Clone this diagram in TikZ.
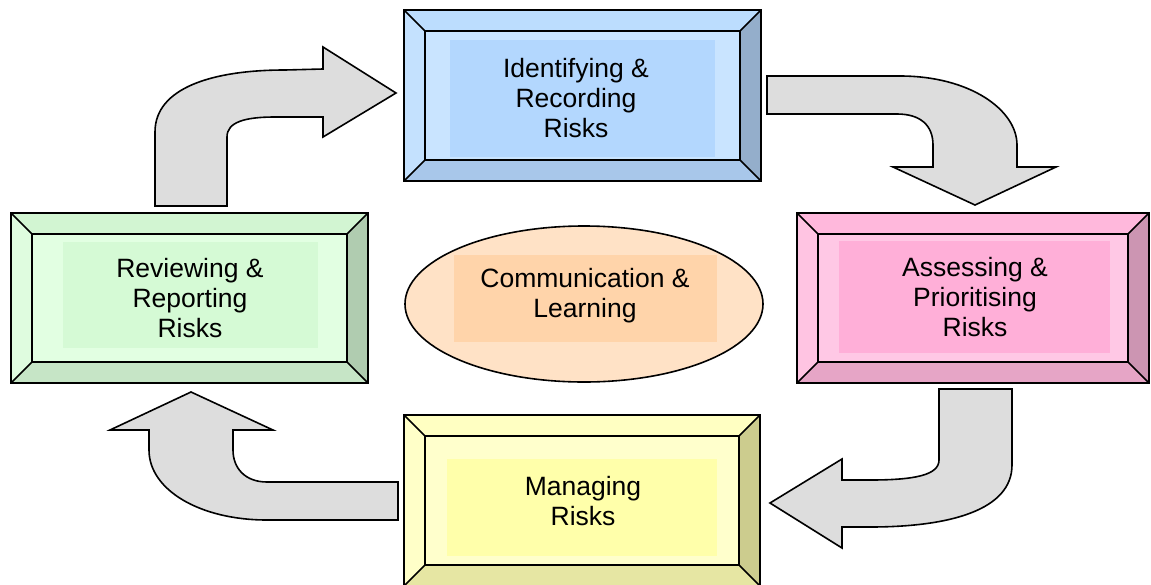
\documentclass[tikz,border=0pt]{standalone}
\usepackage{fontspec}
\setmainfont{Liberation Sans}

% bevel colours: top, left, right, bottom, inner frame, caption panel
\definecolor{blueTop}{HTML}{BCDDFE}
\definecolor{blueLeft}{HTML}{C4E1FE}
\definecolor{blueRight}{HTML}{94AECB}
\definecolor{blueBottom}{HTML}{A8C7EA}
\definecolor{blueFrame}{HTML}{C9E4FF}
\definecolor{bluePanel}{HTML}{B3D7FE}

\definecolor{pinkTop}{HTML}{FFB8DC}
\definecolor{pinkLeft}{HTML}{FFC4E2}
\definecolor{pinkRight}{HTML}{CC95B2}
\definecolor{pinkBottom}{HTML}{E6A5C6}
\definecolor{pinkFrame}{HTML}{FFC8E5}
\definecolor{pinkPanel}{HTML}{FFAFD8}

\definecolor{greenTop}{HTML}{D2F5D2}
\definecolor{greenLeft}{HTML}{DFFCDF}
\definecolor{greenRight}{HTML}{B0CCB0}
\definecolor{greenBottom}{HTML}{C6E5C6}
\definecolor{greenFrame}{HTML}{E2FFE2}
\definecolor{greenPanel}{HTML}{D5FAD5}

\definecolor{yellowTop}{HTML}{FFFFC2}
\definecolor{yellowLeft}{HTML}{FFFFC8}
\definecolor{yellowRight}{HTML}{CCCC8E}
\definecolor{yellowBottom}{HTML}{E6E6A3}
\definecolor{yellowFrame}{HTML}{FFFFCC}
\definecolor{yellowPanel}{HTML}{FFFFAA}

\definecolor{hubFill}{HTML}{FFE2C6}
\definecolor{hubPanel}{HTML}{FFD4AA}
\definecolor{arrowGray}{HTML}{DDDDDD}

% bevelled box: #1 name, #2..#5 outer corners, #6 colour prefix
\newcommand\bevbox[6]{%
  \fill[#6Top]    (#2,#3) -- (#4,#3) -- ({#4-21},{#3+21}) -- ({#2+21},{#3+21}) -- cycle;
  \fill[#6Bottom] (#2,#5) -- (#4,#5) -- ({#4-21},{#5-21}) -- ({#2+21},{#5-21}) -- cycle;
  \fill[#6Left]   (#2,#3) -- ({#2+21},{#3+21}) -- ({#2+21},{#5-21}) -- (#2,#5) -- cycle;
  \fill[#6Right]  (#4,#3) -- ({#4-21},{#3+21}) -- ({#4-21},{#5-21}) -- (#4,#5) -- cycle;
  \fill[#6Frame]  ({#2+21},{#3+21}) rectangle ({#4-21},{#5-21});
  \draw[edge] (#2,#3) -- ({#2+21},{#3+21}) (#4,#3) -- ({#4-21},{#3+21})
              (#2,#5) -- ({#2+21},{#5-21}) (#4,#5) -- ({#4-21},{#5-21});
  \draw[edge] ({#2+21},{#3+21}) rectangle ({#4-21},{#5-21});
  \node[edge, draw, inner sep=0pt, minimum width={(#4-#2)*1pt},
        minimum height={(#5-#3)*1pt}] (#1) at ({(#2+#4)/2},{(#3+#5)/2}) {};
}

\begin{document}
\begin{tikzpicture}[x=1pt, y=-1pt,
  edge/.style={draw=black, line width=1.6pt, line join=miter},
  caption/.style={font=\fontsize{26.5}{30}\selectfont, align=center, inner sep=0pt},
  blockarrow/.style={fill=arrowGray, draw=black, line width=1.6pt, line join=miter}]

\useasboundingbox (0,0) rectangle (1151,584);

% ---- boxes ----
\bevbox{identify}{404}{10}{761}{181}{blue}
\fill[bluePanel] (450,40) rectangle (715,157);
\node[caption] (identify-text) at (576,98) {Identifying \&\\Recording\\Risks};

\bevbox{assess}{797}{213}{1149}{383}{pink}
\fill[pinkPanel] (839,241) rectangle (1110,353);
\node[caption] (assess-text) at (975,297) {Assessing \&\\Prioritising\\Risks};

\bevbox{review}{11}{213}{368}{383}{green}
\fill[greenPanel] (63,242) rectangle (318,348);
\node[caption] (review-text) at (190,298) {Reviewing \&\\Reporting\\Risks};

\bevbox{manage}{404}{415}{760}{586}{yellow}
\fill[yellowPanel] (447,459) rectangle (717,556);
\node[caption] (manage-text) at (583,501) {Managing\\Risks};

% ---- centre ellipse ----
\draw[edge, fill=hubFill] (584,304) ellipse [x radius=179, y radius=78];
\fill[hubPanel] (454,255) rectangle (717,342);
\node[caption] (hub) at (585,296) {Communication \&\\Learning};

% ---- curved block arrows ----
% review -> identify
\draw[blockarrow] (155,206) -- (155,132)
  .. controls (155,88) and (212,70) .. (285,70) -- (323,69) -- (323,47) -- (396,93)
  -- (323,137) -- (323,117) -- (275,117)
  .. controls (245,117) and (227,122) .. (227,137) -- (227,206) -- cycle;
% identify -> assess
\draw[blockarrow] (767,76) -- (900,76)
  .. controls (970,76) and (1017,110) .. (1017,145) -- (1017,167) -- (1056,167)
  -- (975,205) -- (893,167) -- (933,167) -- (933,145)
  .. controls (933,125) and (920,114) .. (897,114) -- (767,114) -- cycle;
% assess -> manage
\draw[blockarrow] (1012,389) -- (1012,465)
  .. controls (1012,510) and (950,527) .. (870,527) -- (842,527) -- (842,548)
  -- (770,503) -- (842,459) -- (842,480) -- (870,480)
  .. controls (915,480) and (939,475) .. (939,460) -- (939,389) -- cycle;
% manage -> review
\draw[blockarrow] (398,520) -- (267,520)
  .. controls (200,520) and (149,490) .. (149,450) -- (149,430) -- (110,430)
  -- (191,392) -- (273,430) -- (233,430) -- (233,450)
  .. controls (233,468) and (245,482) .. (267,482) -- (398,482) -- cycle;

\end{tikzpicture}
\end{document}
